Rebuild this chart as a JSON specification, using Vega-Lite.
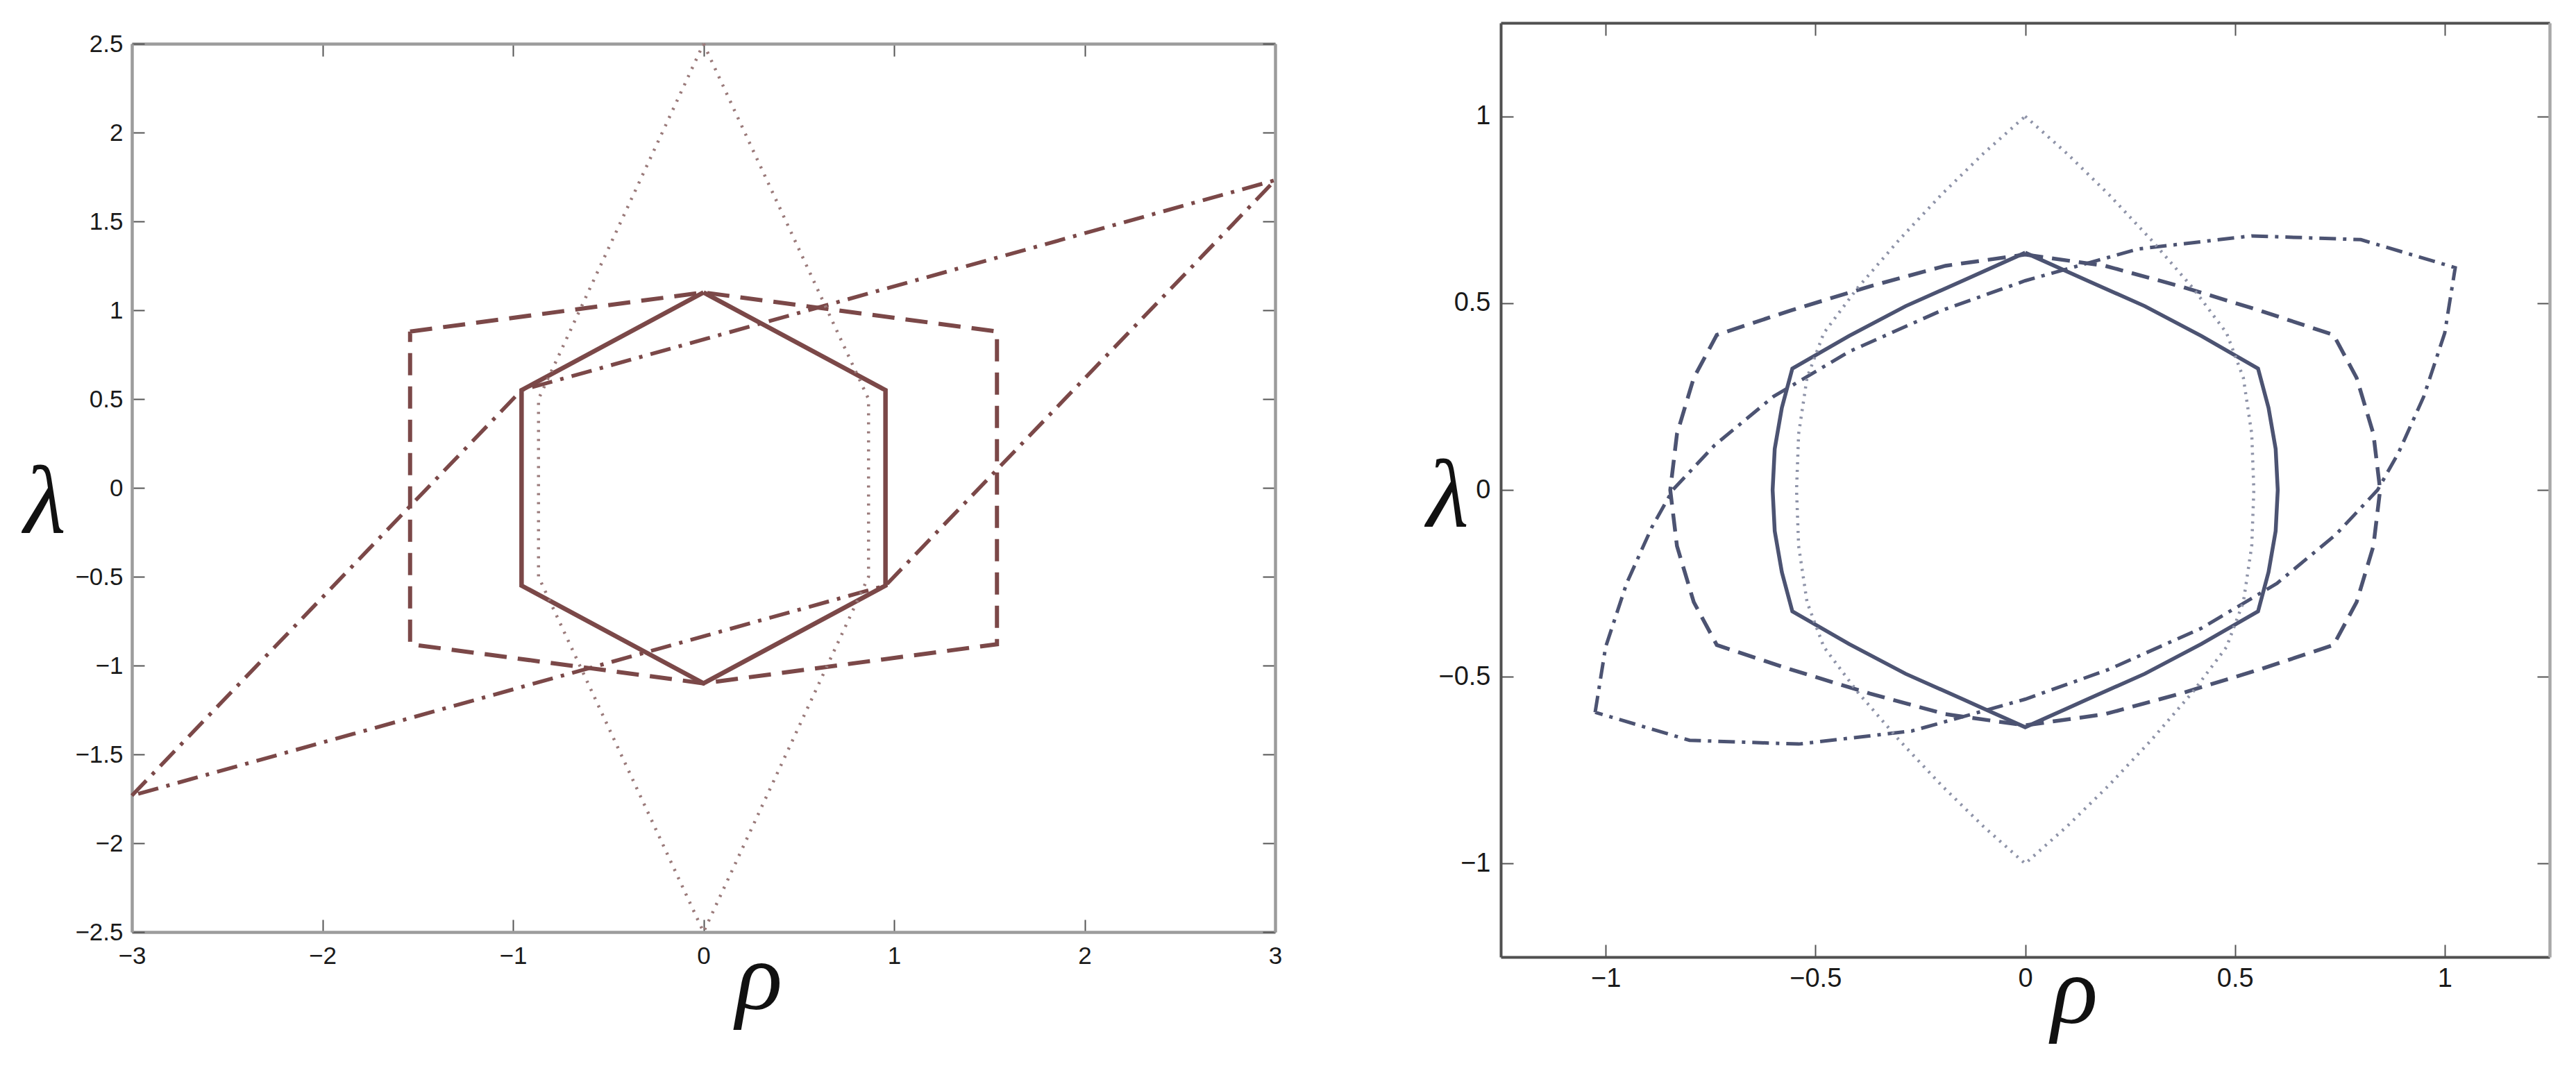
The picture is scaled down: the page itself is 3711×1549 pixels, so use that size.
{
  "$schema": "https://vega.github.io/schema/vega-lite/v6.json",
  "width": 3711,
  "height": 1549,
  "autosize": {"type": "none"},
  "padding": 0,
  "background": "white",
  "config": {
    "view": {"stroke": null},
    "axis": {
      "grid": false,
      "labelFont": "Liberation Sans",
      "labelColor": "#1a1a1a",
      "titleFont": "Liberation Serif",
      "titleFontStyle": "italic",
      "titleFontWeight": "normal",
      "titleFontSize": 140,
      "titleColor": "#111111",
      "tickWidth": 2,
      "tickColor": "#555555",
      "labelOverlap": false,
      "labelFlush": false,
      "format": "~g"
    }
  },
  "datasets": {
    "left": [
      {"c": "solid", "i": 0, "x": 0, "y": 1.1},
      {"c": "solid", "i": 1, "x": 0.955, "y": 0.55},
      {"c": "solid", "i": 2, "x": 0.955, "y": -0.55},
      {"c": "solid", "i": 3, "x": 0, "y": -1.1},
      {"c": "solid", "i": 4, "x": -0.955, "y": -0.55},
      {"c": "solid", "i": 5, "x": -0.955, "y": 0.55},
      {"c": "solid", "i": 6, "x": 0, "y": 1.1},
      {"c": "dashed", "i": 0, "x": -1.54, "y": 0.88},
      {"c": "dashed", "i": 1, "x": 0, "y": 1.1},
      {"c": "dashed", "i": 2, "x": 1.54, "y": 0.88},
      {"c": "dashed", "i": 3, "x": 1.54, "y": -0.88},
      {"c": "dashed", "i": 4, "x": 0, "y": -1.1},
      {"c": "dashed", "i": 5, "x": -1.54, "y": -0.88},
      {"c": "dashed", "i": 6, "x": -1.54, "y": 0.88},
      {"c": "dotted", "i": 0, "x": 0, "y": 2.5},
      {"c": "dotted", "i": 1, "x": 0.866, "y": 0.5},
      {"c": "dotted", "i": 2, "x": 0.866, "y": -0.5},
      {"c": "dotted", "i": 3, "x": 0, "y": -2.5},
      {"c": "dotted", "i": 4, "x": -0.866, "y": -0.5},
      {"c": "dotted", "i": 5, "x": -0.866, "y": 0.5},
      {"c": "dotted", "i": 6, "x": 0, "y": 2.5},
      {"c": "dashdot", "i": 0, "x": -3, "y": -1.732},
      {"c": "dashdot", "i": 1, "x": -0.955, "y": 0.55},
      {"c": "dashdot", "i": 2, "x": 3, "y": 1.732},
      {"c": "dashdot", "i": 3, "x": 0.955, "y": -0.55},
      {"c": "dashdot", "i": 4, "x": -3, "y": -1.732}
    ],
    "right": [
      {"c": "solid", "i": 0, "x": 0, "y": 0.635},
      {"c": "solid", "i": 1, "x": 0.145, "y": 0.562},
      {"c": "solid", "i": 2, "x": 0.285, "y": 0.492},
      {"c": "solid", "i": 3, "x": 0.42, "y": 0.412},
      {"c": "solid", "i": 4, "x": 0.555, "y": 0.325},
      {"c": "solid", "i": 5, "x": 0.58, "y": 0.22},
      {"c": "solid", "i": 6, "x": 0.597, "y": 0.11},
      {"c": "solid", "i": 7, "x": 0.602, "y": 0},
      {"c": "solid", "i": 8, "x": 0.597, "y": -0.11},
      {"c": "solid", "i": 9, "x": 0.58, "y": -0.22},
      {"c": "solid", "i": 10, "x": 0.555, "y": -0.325},
      {"c": "solid", "i": 11, "x": 0.42, "y": -0.412},
      {"c": "solid", "i": 12, "x": 0.285, "y": -0.492},
      {"c": "solid", "i": 13, "x": 0.145, "y": -0.562},
      {"c": "solid", "i": 14, "x": 0, "y": -0.635},
      {"c": "solid", "i": 15, "x": -0.145, "y": -0.562},
      {"c": "solid", "i": 16, "x": -0.285, "y": -0.492},
      {"c": "solid", "i": 17, "x": -0.42, "y": -0.412},
      {"c": "solid", "i": 18, "x": -0.555, "y": -0.325},
      {"c": "solid", "i": 19, "x": -0.58, "y": -0.22},
      {"c": "solid", "i": 20, "x": -0.597, "y": -0.11},
      {"c": "solid", "i": 21, "x": -0.602, "y": 0},
      {"c": "solid", "i": 22, "x": -0.597, "y": 0.11},
      {"c": "solid", "i": 23, "x": -0.58, "y": 0.22},
      {"c": "solid", "i": 24, "x": -0.555, "y": 0.325},
      {"c": "solid", "i": 25, "x": -0.42, "y": 0.412},
      {"c": "solid", "i": 26, "x": -0.285, "y": 0.492},
      {"c": "solid", "i": 27, "x": -0.145, "y": 0.562},
      {"c": "solid", "i": 28, "x": 0, "y": 0.635},
      {"c": "dotted", "i": 0, "x": 0, "y": 1},
      {"c": "dotted", "i": 1, "x": 0.1, "y": 0.9},
      {"c": "dotted", "i": 2, "x": 0.2, "y": 0.79},
      {"c": "dotted", "i": 3, "x": 0.3, "y": 0.67},
      {"c": "dotted", "i": 4, "x": 0.4, "y": 0.54},
      {"c": "dotted", "i": 5, "x": 0.48, "y": 0.42},
      {"c": "dotted", "i": 6, "x": 0.52, "y": 0.3},
      {"c": "dotted", "i": 7, "x": 0.54, "y": 0.15},
      {"c": "dotted", "i": 8, "x": 0.545, "y": 0},
      {"c": "dotted", "i": 9, "x": 0.54, "y": -0.15},
      {"c": "dotted", "i": 10, "x": 0.52, "y": -0.3},
      {"c": "dotted", "i": 11, "x": 0.48, "y": -0.42},
      {"c": "dotted", "i": 12, "x": 0.4, "y": -0.54},
      {"c": "dotted", "i": 13, "x": 0.3, "y": -0.67},
      {"c": "dotted", "i": 14, "x": 0.2, "y": -0.79},
      {"c": "dotted", "i": 15, "x": 0.1, "y": -0.9},
      {"c": "dotted", "i": 16, "x": 0, "y": -1},
      {"c": "dotted", "i": 17, "x": -0.1, "y": -0.9},
      {"c": "dotted", "i": 18, "x": -0.2, "y": -0.79},
      {"c": "dotted", "i": 19, "x": -0.3, "y": -0.67},
      {"c": "dotted", "i": 20, "x": -0.4, "y": -0.54},
      {"c": "dotted", "i": 21, "x": -0.48, "y": -0.42},
      {"c": "dotted", "i": 22, "x": -0.52, "y": -0.3},
      {"c": "dotted", "i": 23, "x": -0.54, "y": -0.15},
      {"c": "dotted", "i": 24, "x": -0.545, "y": 0},
      {"c": "dotted", "i": 25, "x": -0.54, "y": 0.15},
      {"c": "dotted", "i": 26, "x": -0.52, "y": 0.3},
      {"c": "dotted", "i": 27, "x": -0.48, "y": 0.42},
      {"c": "dotted", "i": 28, "x": -0.4, "y": 0.54},
      {"c": "dotted", "i": 29, "x": -0.3, "y": 0.67},
      {"c": "dotted", "i": 30, "x": -0.2, "y": 0.79},
      {"c": "dotted", "i": 31, "x": -0.1, "y": 0.9},
      {"c": "dotted", "i": 32, "x": 0, "y": 1},
      {"c": "dashed", "i": 0, "x": 0, "y": 0.63},
      {"c": "dashed", "i": 1, "x": 0.19, "y": 0.6},
      {"c": "dashed", "i": 2, "x": 0.37, "y": 0.545},
      {"c": "dashed", "i": 3, "x": 0.56, "y": 0.48},
      {"c": "dashed", "i": 4, "x": 0.735, "y": 0.415},
      {"c": "dashed", "i": 5, "x": 0.79, "y": 0.3},
      {"c": "dashed", "i": 6, "x": 0.83, "y": 0.15},
      {"c": "dashed", "i": 7, "x": 0.846, "y": 0},
      {"c": "dashed", "i": 8, "x": 0.83, "y": -0.15},
      {"c": "dashed", "i": 9, "x": 0.79, "y": -0.3},
      {"c": "dashed", "i": 10, "x": 0.735, "y": -0.415},
      {"c": "dashed", "i": 11, "x": 0.56, "y": -0.48},
      {"c": "dashed", "i": 12, "x": 0.37, "y": -0.545},
      {"c": "dashed", "i": 13, "x": 0.19, "y": -0.6},
      {"c": "dashed", "i": 14, "x": 0, "y": -0.63},
      {"c": "dashed", "i": 15, "x": -0.19, "y": -0.6},
      {"c": "dashed", "i": 16, "x": -0.37, "y": -0.545},
      {"c": "dashed", "i": 17, "x": -0.56, "y": -0.48},
      {"c": "dashed", "i": 18, "x": -0.735, "y": -0.415},
      {"c": "dashed", "i": 19, "x": -0.79, "y": -0.3},
      {"c": "dashed", "i": 20, "x": -0.83, "y": -0.15},
      {"c": "dashed", "i": 21, "x": -0.846, "y": 0},
      {"c": "dashed", "i": 22, "x": -0.83, "y": 0.15},
      {"c": "dashed", "i": 23, "x": -0.79, "y": 0.3},
      {"c": "dashed", "i": 24, "x": -0.735, "y": 0.415},
      {"c": "dashed", "i": 25, "x": -0.56, "y": 0.48},
      {"c": "dashed", "i": 26, "x": -0.37, "y": 0.545},
      {"c": "dashed", "i": 27, "x": -0.19, "y": 0.6},
      {"c": "dashed", "i": 28, "x": 0, "y": 0.63},
      {"c": "dashdot", "i": 0, "x": -1.025, "y": -0.595},
      {"c": "dashdot", "i": 1, "x": -1.0, "y": -0.42},
      {"c": "dashdot", "i": 2, "x": -0.95, "y": -0.25},
      {"c": "dashdot", "i": 3, "x": -0.89, "y": -0.1},
      {"c": "dashdot", "i": 4, "x": -0.84, "y": 0},
      {"c": "dashdot", "i": 5, "x": -0.74, "y": 0.12},
      {"c": "dashdot", "i": 6, "x": -0.6, "y": 0.25},
      {"c": "dashdot", "i": 7, "x": -0.42, "y": 0.37},
      {"c": "dashdot", "i": 8, "x": -0.2, "y": 0.48},
      {"c": "dashdot", "i": 9, "x": 0, "y": 0.56},
      {"c": "dashdot", "i": 10, "x": 0.27, "y": 0.645},
      {"c": "dashdot", "i": 11, "x": 0.54, "y": 0.68},
      {"c": "dashdot", "i": 12, "x": 0.8, "y": 0.67},
      {"c": "dashdot", "i": 13, "x": 1.025, "y": 0.595},
      {"c": "dashdot", "i": 14, "x": 1.0, "y": 0.42},
      {"c": "dashdot", "i": 15, "x": 0.95, "y": 0.25},
      {"c": "dashdot", "i": 16, "x": 0.89, "y": 0.1},
      {"c": "dashdot", "i": 17, "x": 0.84, "y": 0},
      {"c": "dashdot", "i": 18, "x": 0.74, "y": -0.12},
      {"c": "dashdot", "i": 19, "x": 0.6, "y": -0.25},
      {"c": "dashdot", "i": 20, "x": 0.42, "y": -0.37},
      {"c": "dashdot", "i": 21, "x": 0.2, "y": -0.48},
      {"c": "dashdot", "i": 22, "x": 0, "y": -0.56},
      {"c": "dashdot", "i": 23, "x": -0.27, "y": -0.645},
      {"c": "dashdot", "i": 24, "x": -0.54, "y": -0.68},
      {"c": "dashdot", "i": 25, "x": -0.8, "y": -0.67},
      {"c": "dashdot", "i": 26, "x": -1.025, "y": -0.595}
    ]
  },
  "resolve": {
    "scale": {"x": "independent", "y": "independent"},
    "axis": {"x": "independent", "y": "independent"}
  },
  "layer": [
    {
      "data": {"name": "left"},
      "encoding": {
        "x": {
          "field": "x", "type": "quantitative",
          "scale": {"domain": [-3, 3], "range": [190, 1837], "nice": false, "zero": false},
          "axis": {
            "orient": "bottom", "offset": -206,
            "values": [-3, -2, -1, 0, 1, 2, 3],
            "tickSize": -18, "labelPadding": 35, "labelFontSize": 35,
            "domainColor": "#9c9c9c", "domainWidth": 4.5,
            "title": "ρ", "titleX": 1093, "titleY": 110,
            "titleAlign": "center", "titleBaseline": "alphabetic"
          }
        },
        "y": {
          "field": "y", "type": "quantitative",
          "scale": {"domain": [-2.5, 2.5], "range": [1343, 63], "nice": false, "zero": false},
          "axis": {
            "orient": "left", "offset": -190,
            "values": [-2.5, -2, -1.5, -1, -0.5, 0, 0.5, 1, 1.5, 2, 2.5],
            "tickSize": -18, "labelPadding": 31, "labelFontSize": 35,
            "domainColor": "#9c9c9c", "domainWidth": 4.5,
            "title": "λ", "titleX": -126, "titleY": 767, "titleAngle": 0,
            "titleAlign": "center", "titleBaseline": "alphabetic"
          }
        },
        "order": {"field": "i", "type": "quantitative"}
      },
      "layer": [
        {"transform": [{"filter": "datum.c === 'dashdot'"}],
         "mark": {"type": "line", "color": "#7b4848", "strokeWidth": 5.5, "strokeDash": [30, 12, 5, 12]}},
        {"transform": [{"filter": "datum.c === 'dashed'"}],
         "mark": {"type": "line", "color": "#7b4848", "strokeWidth": 6, "strokeDash": [32, 16]}},
        {"transform": [{"filter": "datum.c === 'solid'"}],
         "mark": {"type": "line", "color": "#7b4848", "strokeWidth": 6.5}}
      ]
    },
    {
      "data": {"name": "left"},
      "transform": [{"filter": "datum.c === 'dotted'"}],
      "mark": {"type": "line", "color": "#9a7a7a", "strokeWidth": 4.5, "strokeDash": [3, 10]},
      "encoding": {
        "x": {
          "field": "x", "type": "quantitative",
          "scale": {"domain": [-3, 3], "range": [190, 1837], "nice": false, "zero": false},
          "axis": {
            "orient": "top", "offset": -63, "labels": false, "title": null,
            "values": [-3, -2, -1, 0, 1, 2, 3], "tickSize": -18,
            "domainColor": "#9c9c9c", "domainWidth": 4.5
          }
        },
        "y": {
          "field": "y", "type": "quantitative",
          "scale": {"domain": [-2.5, 2.5], "range": [1343, 63], "nice": false, "zero": false},
          "axis": {
            "orient": "right", "offset": -1874, "labels": false, "title": null,
            "values": [-2.5, -2, -1.5, -1, -0.5, 0, 0.5, 1, 1.5, 2, 2.5], "tickSize": -18,
            "domainColor": "#9c9c9c", "domainWidth": 4.5
          }
        },
        "order": {"field": "i", "type": "quantitative"}
      }
    },
    {
      "data": {"name": "right"},
      "encoding": {
        "x": {
          "field": "x", "type": "quantitative",
          "scale": {"domain": [-1.25, 1.25], "range": [2162, 3673], "nice": false, "zero": false},
          "axis": {
            "orient": "bottom", "offset": -170,
            "values": [-1, -0.5, 0, 0.5, 1],
            "tickSize": -18, "labelPadding": 30, "labelFontSize": 38,
            "domainColor": "#505050", "domainWidth": 4,
            "title": "ρ", "titleX": 2988, "titleY": 94,
            "titleAlign": "center", "titleBaseline": "alphabetic"
          }
        },
        "y": {
          "field": "y", "type": "quantitative",
          "scale": {"domain": [-1.25, 1.25], "range": [1379, 33], "nice": false, "zero": false},
          "axis": {
            "orient": "left", "offset": -2162,
            "values": [-1, -0.5, 0, 0.5, 1],
            "tickSize": -18, "labelPadding": 33, "labelFontSize": 38,
            "domainColor": "#505050", "domainWidth": 4,
            "title": "λ", "titleX": -77, "titleY": 758, "titleAngle": 0,
            "titleAlign": "center", "titleBaseline": "alphabetic"
          }
        },
        "order": {"field": "i", "type": "quantitative"}
      },
      "layer": [
        {"transform": [{"filter": "datum.c === 'dashdot'"}],
         "mark": {"type": "line", "color": "#4c5372", "strokeWidth": 5, "strokeDash": [24, 10, 5, 10]}},
        {"transform": [{"filter": "datum.c === 'dashed'"}],
         "mark": {"type": "line", "color": "#4c5372", "strokeWidth": 5.5, "strokeDash": [26, 13]}},
        {"transform": [{"filter": "datum.c === 'solid'"}],
         "mark": {"type": "line", "color": "#4c5372", "strokeWidth": 5.5}}
      ]
    },
    {
      "data": {"name": "right"},
      "transform": [{"filter": "datum.c === 'dotted'"}],
      "mark": {"type": "line", "color": "#8e93a8", "strokeWidth": 4.5, "strokeDash": [3, 8]},
      "encoding": {
        "x": {
          "field": "x", "type": "quantitative",
          "scale": {"domain": [-1.25, 1.25], "range": [2162, 3673], "nice": false, "zero": false},
          "axis": {
            "orient": "top", "offset": -33, "labels": false, "title": null,
            "values": [-1, -0.5, 0, 0.5, 1], "tickSize": -18,
            "domainColor": "#505050", "domainWidth": 4
          }
        },
        "y": {
          "field": "y", "type": "quantitative",
          "scale": {"domain": [-1.25, 1.25], "range": [1379, 33], "nice": false, "zero": false},
          "axis": {
            "orient": "right", "offset": -38, "labels": false, "title": null,
            "values": [-1, -0.5, 0, 0.5, 1], "tickSize": -18,
            "domainColor": "#a8a8a8", "domainWidth": 4.5
          }
        },
        "order": {"field": "i", "type": "quantitative"}
      }
    }
  ]
}
